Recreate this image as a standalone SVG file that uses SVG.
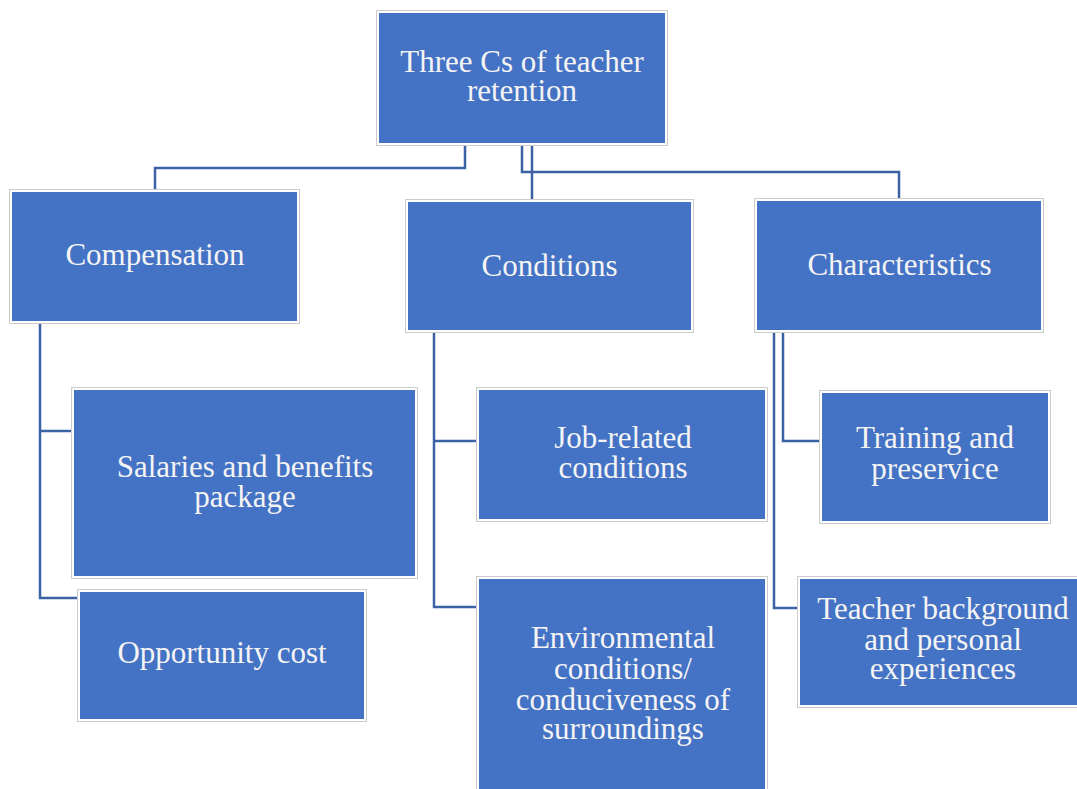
<svg xmlns="http://www.w3.org/2000/svg" width="1077" height="789" viewBox="0 0 1077 789">
<style>
.frame{fill:#ffffff;stroke:#cccccc;stroke-width:1}
.box{fill:#4472C4}
.lbl{font-family:"Liberation Serif","Times New Roman",serif;font-size:31px;fill:#F4F4F4;text-anchor:middle}
.conn{fill:none;stroke:#3C62A6;stroke-width:2.5}
</style>
<rect width="1077" height="789" fill="#ffffff"/>
<g id="connectors">
<polyline class="conn" points="465,146 465,168 155,168 155,190"/>
<polyline class="conn" points="522,146 522,172 899,172 899,198"/>
<polyline class="conn" points="532,146 532,199"/>
<polyline class="conn" points="40,324 40,598 77,598"/>
<polyline class="conn" points="40,431 72,431"/>
<polyline class="conn" points="434,333 434,607 476,607"/>
<polyline class="conn" points="434,441 476,441"/>
<polyline class="conn" points="783,333 783,441 819,441"/>
<polyline class="conn" points="774,333 774,608 797,608"/>
</g>
<g id="root">
<rect class="frame" x="376.5" y="10.5" width="291" height="135"/>
<rect class="box" x="379" y="13" width="286" height="130"/>
<text class="lbl" x="522" y="72">Three Cs of teacher</text>
<text class="lbl" x="522" y="101">retention</text>
</g>
<g id="compensation">
<rect class="frame" x="9.5" y="189.5" width="290" height="134"/>
<rect class="box" x="12" y="192" width="285" height="129"/>
<text class="lbl" x="155" y="265">Compensation</text>
</g>
<g id="conditions">
<rect class="frame" x="405.5" y="199.5" width="288" height="133"/>
<rect class="box" x="408" y="202" width="283" height="128"/>
<text class="lbl" x="549.5" y="276">Conditions</text>
</g>
<g id="characteristics">
<rect class="frame" x="754.5" y="198.5" width="289" height="134"/>
<rect class="box" x="757" y="201" width="284" height="129"/>
<text class="lbl" x="899.5" y="275">Characteristics</text>
</g>
<g id="salaries">
<rect class="frame" x="71.5" y="387.5" width="346" height="191"/>
<rect class="box" x="74" y="390" width="341" height="186"/>
<text class="lbl" x="245" y="477">Salaries and benefits</text>
<text class="lbl" x="245" y="507">package</text>
</g>
<g id="opportunity">
<rect class="frame" x="77.5" y="589.5" width="289" height="132"/>
<rect class="box" x="80" y="592" width="284" height="127"/>
<text class="lbl" x="222" y="663">Opportunity cost</text>
</g>
<g id="job">
<rect class="frame" x="476.5" y="387.5" width="291" height="134"/>
<rect class="box" x="479" y="390" width="286" height="129"/>
<text class="lbl" x="623" y="448">Job-related</text>
<text class="lbl" x="623" y="478">conditions</text>
</g>
<g id="environmental">
<rect class="frame" x="476.5" y="576.5" width="291" height="230"/>
<rect class="box" x="479" y="579" width="286" height="225"/>
<text class="lbl" x="623" y="648">Environmental</text>
<text class="lbl" x="623" y="679">conditions/</text>
<text class="lbl" x="623" y="710">conduciveness of</text>
<text class="lbl" x="623" y="739">surroundings</text>
</g>
<g id="training">
<rect class="frame" x="819.5" y="390.5" width="231" height="133"/>
<rect class="box" x="822" y="393" width="226" height="128"/>
<text class="lbl" x="935" y="448">Training and</text>
<text class="lbl" x="935" y="479">preservice</text>
</g>
<g id="teacher">
<rect class="frame" x="797.5" y="576.5" width="292" height="131"/>
<rect class="box" x="800" y="579" width="287" height="126"/>
<text class="lbl" x="943" y="619">Teacher background</text>
<text class="lbl" x="943" y="650">and personal</text>
<text class="lbl" x="943" y="679">experiences</text>
</g>
</svg>
